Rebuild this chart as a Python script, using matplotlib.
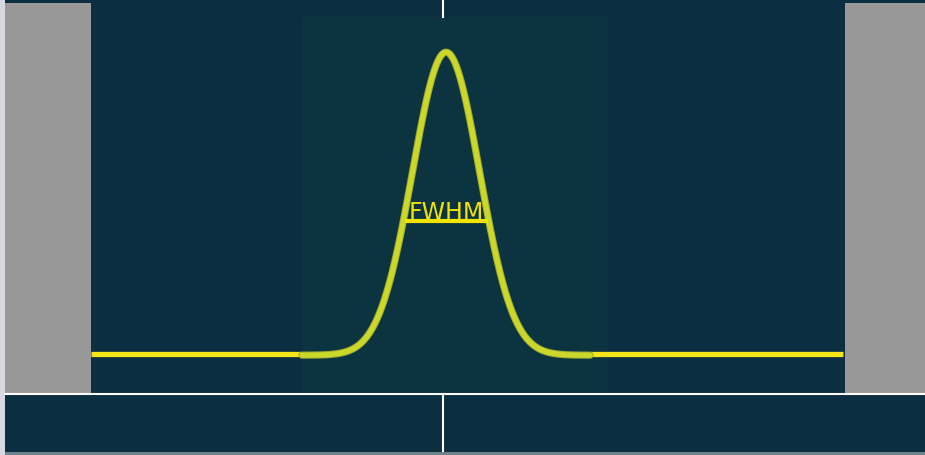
import numpy as np
import matplotlib
matplotlib.use("Agg")
import matplotlib.pyplot as plt
from matplotlib.patches import Rectangle

# ---- data (arbitrary units, sigma = 1) ----
peak_center = 0.0
peak_sigma = 1.0
peak_amplitude = 1.0
curve_range = [-4.3, 4.3]
left_baseline = [-10.6, -4.3]
right_baseline = [4.3, 11.85]
fwhm_level = 0.44
fwhm_half_width = 1.24
fwhm_label = "FWHM"

W, H = 925, 456
fig = plt.figure(figsize=(W / 100, H / 100), dpi=100)
fig.patch.set_facecolor("#0b2f40")

# frame / layout axes in pixel coordinates
base = fig.add_axes([0, 0, 1, 1])
base.set_xlim(0, W)
base.set_ylim(H, 0)
base.axis("off")
navy = "#0b2f40"
base.add_patch(Rectangle((0, 0), W, H, color=navy, lw=0))
base.add_patch(Rectangle((0, 0), 5, H, color="#d8d8e2", lw=0))
base.add_patch(Rectangle((5, 4), 86, 390, color="#989898", lw=0))
base.add_patch(Rectangle((845, 4), 80, 390, color="#989898", lw=0))
base.add_patch(Rectangle((302, 18), 306, 376, color="#0c3440", lw=0))
base.add_patch(Rectangle((5, 453), W, 3, color="#6d828b", lw=0))
base.plot([5, W], [395, 395], color="white", lw=1.5)
base.plot([443, 443], [0, 18], color="white", lw=1.5)
base.plot([443, 443], [396, 452], color="white", lw=1.5)

# data axes: x from pixel 91 to 843, y baseline at px 355, peak at px 52
x0p, x1p = 91, 843
yb, yt = 355, 52
ax = fig.add_axes([x0p / W, (H - yb) / H, (x1p - x0p) / W, (yb - yt) / H])
ax.set_xlim(left_baseline[0], right_baseline[1])
ax.set_ylim(0, peak_amplitude)
ax.axis("off")
ax.patch.set_alpha(0)

x = np.linspace(curve_range[0], curve_range[1], 600)
y = peak_amplitude * np.exp(-0.5 * ((x - peak_center) / peak_sigma) ** 2)

ax.plot(left_baseline, [0, 0], color="#f3e51a", lw=3.8, solid_capstyle="butt", clip_on=False)
ax.plot(right_baseline, [0, 0], color="#f3e51a", lw=3.8, solid_capstyle="butt", clip_on=False)
ax.plot(x, y - 0.004, color="#9aa830", lw=5.2, clip_on=False, solid_capstyle="round")
ax.plot(x, y - 0.004, color="#cbd72b", lw=3.8, clip_on=False, solid_capstyle="round")

ax.plot([peak_center - fwhm_half_width, peak_center + fwhm_half_width],
        [fwhm_level, fwhm_level], color="#f3e300", lw=3.0, clip_on=False,
        solid_capstyle="butt")
ax.text(peak_center, fwhm_level + 0.006, fwhm_label, color="#f3e300", fontsize=17,
        ha="center", va="baseline", family="DejaVu Sans")

fig.savefig("out.png", dpi=100, facecolor=fig.get_facecolor())
